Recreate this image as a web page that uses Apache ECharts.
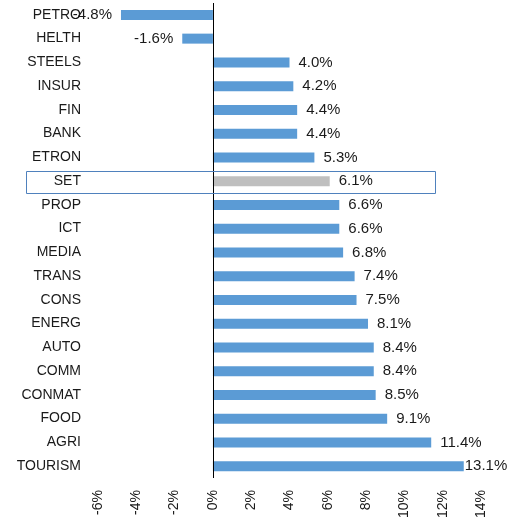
<!DOCTYPE html>
<html lang="en">
<head>
    <meta charset="UTF-8">
    <title>Sector returns</title>
    <script src="https://cdn.jsdelivr.net/npm/echarts@6/dist/echarts.min.js"></script>
    <style>
        html, body { margin: 0; padding: 0; background: #fff; }
        #container { width: 523px; height: 525px; }
    </style>
</head>
<body>
<div id="container"></div>
<script>
    var sectors = ['PETRO','HELTH','STEELS','INSUR','FIN','BANK','ETRON','SET','PROP','ICT',
        'MEDIA','TRANS','CONS','ENERG','AUTO','COMM','CONMAT','FOOD','AGRI','TOURISM'];
    var returns = [-4.8, -1.6, 4.0, 4.2, 4.4, 4.4, 5.3, 6.1, 6.6, 6.6,
        6.8, 7.4, 7.5, 8.1, 8.4, 8.4, 8.5, 9.1, 11.4, 13.1];
    var highlight = 'SET';

    var font = 'Liberation Sans';
    var myChart = echarts.init(document.getElementById('container'));

    var barData = returns.map(function (v, i) {
        var last = i === returns.length - 1;
        return {
            value: v,
            itemStyle: { color: sectors[i] === highlight ? '#BFBFBF' : '#5B9BD5' },
            label: { position: v < 0 ? 'left' : 'right', distance: last ? 1 : 9 }
        };
    });

    var option = {
        animation: false,
        grid: { left: 98, right: 42, top: 3, bottom: 47 },
        xAxis: {
            type: 'value',
            min: -6, max: 14, interval: 2,
            axisLine: { show: false },
            axisTick: { show: false },
            splitLine: { show: false },
            axisLabel: {
                rotate: 90, margin: 12,
                color: '#1a1a1a', fontFamily: font, fontSize: 14,
                formatter: function (v) { return v + '%'; }
            }
        },
        yAxis: {
            type: 'category',
            inverse: true,
            data: sectors,
            axisLine: { show: false },
            axisTick: { show: false },
            axisLabel: { color: '#1a1a1a', fontFamily: font, fontSize: 14, margin: 17 }
        },
        series: [{
            type: 'bar',
            data: barData,
            barWidth: 10,
            label: {
                show: true,
                color: '#1a1a1a', fontFamily: font, fontSize: 15,
                formatter: function (p) { return p.value.toFixed(1) + '%'; }
            },
            markLine: {
                silent: true, symbol: 'none',
                label: { show: false },
                lineStyle: { color: '#000', type: 'solid', width: 1 },
                data: [{ xAxis: 0 }]
            }
        }]
    };

    myChart.setOption(option);

    // box around the highlighted row
    var yc = myChart.convertToPixel({ yAxisIndex: 0 }, highlight);
    myChart.setOption({
        graphic: [{
            type: 'rect',
            shape: { x: 26.5, y: Math.round(yc) - 10 + 0.5, width: 409, height: 22 },
            style: { fill: 'none', stroke: '#4F81BD', lineWidth: 1 },
            z: 10
        }]
    });
</script>
</body>
</html>
